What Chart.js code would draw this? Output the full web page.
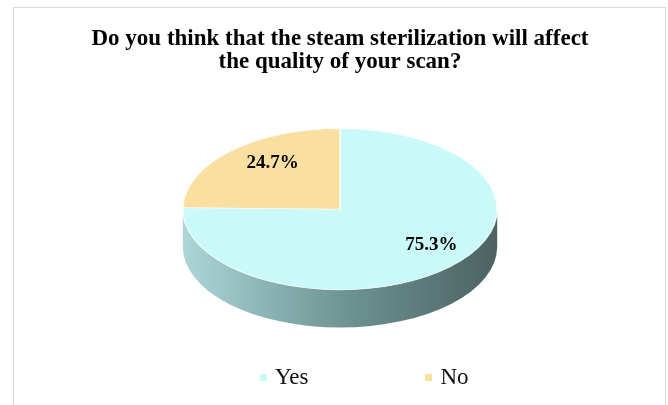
<!DOCTYPE html>
<html>
<head>
<meta charset="utf-8">
<script src="https://cdn.jsdelivr.net/npm/chart.js@4.4.1/dist/chart.umd.min.js"></script>
<style>
  body { margin:0; background:#fff; }
  #frame { position:absolute; left:13px; top:7px; width:651px; height:420px; border:1px solid #d9d9d9; border-bottom:none; }
  #chart { position:absolute; left:0; top:0; }
  #legend { position:absolute; left:260px; top:364px; display:flex; align-items:center; font-family:'Liberation Serif', serif; font-size:23px; color:#111; }
  #legend .item { display:flex; align-items:center; }
  #legend .item + .item { margin-left:117px; }
  #legend .box { width:7px; height:7px; margin-right:8px; }
</style>
</head>
<body>
<div id="frame"></div>
<canvas id="chart" width="668" height="405"></canvas>
<div id="legend"></div>

<script>
// ---------- Dados ----------
const labels = ['Yes', 'No'];
const shares = [75.3, 24.7];
const titleLines = ['Do you think that the steam sterilization will affect', 'the quality of your scan?'];

// ---------- Cores ----------
const topColors = ['#CAF9F9', '#F9DFA0'];
const sideColors = [['#AED6D6', '#6F9595', '#4C6262'], ['#E6C888', '#B89A5C', '#8A7040']];

// ---------- Plugin 3D (elipse + lateral) ----------
const pie3d = {
  id: 'pie3d',
  geom(chart, opts) {
    const arc = chart.getDatasetMeta(0).data[0];
    const R = arc.outerRadius;
    const rx = 2 * R / (2 * opts.tilt + opts.depth);
    const ry = rx * opts.tilt;
    const depth = rx * opts.depth;
    return { R, ox: arc.x, oy: arc.y, cx: arc.x, cy: arc.y - R + ry, rx, ry, depth };
  },
  beforeDatasetsDraw(chart, args, opts) {
    const ctx = chart.ctx;
    const g = this.geom(chart, opts);
    const arcs = chart.getDatasetMeta(0).data;

    // parede lateral visível (ângulos 0..PI no canvas)
    arcs.forEach((arc, i) => {
      [[0, Math.PI], [2 * Math.PI, 3 * Math.PI]].forEach(([lo, hi]) => {
        const s = Math.max(arc.startAngle, lo), e = Math.min(arc.endAngle, hi);
        if (e <= s) return;
        const grad = ctx.createLinearGradient(g.cx - g.rx, 0, g.cx + g.rx, 0);
        const c = sideColors[i];
        grad.addColorStop(0, c[0]);
        grad.addColorStop(0.5, c[1]);
        grad.addColorStop(1, c[2]);
        ctx.save();
        ctx.beginPath();
        ctx.ellipse(g.cx, g.cy, g.rx, g.ry, 0, s, e);
        ctx.ellipse(g.cx, g.cy + g.depth, g.rx, g.ry, 0, e, s, true);
        ctx.closePath();
        ctx.fillStyle = grad;
        ctx.fill();
        ctx.restore();
      });
    });

    // face superior: achata o círculo em elipse
    ctx.save();
    ctx.translate(g.cx, g.cy);
    ctx.scale(g.rx / g.R, g.ry / g.R);
    ctx.translate(-g.ox, -g.oy);
  },
  afterDatasetsDraw(chart, args, opts) {
    const ctx = chart.ctx;
    ctx.restore();
    const g = this.geom(chart, opts);
    const arcs = chart.getDatasetMeta(0).data;
    ctx.save();
    ctx.font = 'bold 19px "Liberation Serif"';
    ctx.fillStyle = '#000';
    ctx.textAlign = 'center';
    ctx.textBaseline = 'middle';
    arcs.forEach((arc, i) => {
      const mid = (arc.startAngle + arc.endAngle) / 2;
      const x = g.cx + opts.labelPos * g.rx * Math.cos(mid) + opts.labelShift[0];
      const y = g.cy + opts.labelPos * g.ry * Math.sin(mid) + opts.labelShift[1];
      ctx.fillText(shares[i].toFixed(1) + '%', x, y);
    });
    ctx.restore();
  }
};

// ---------- Gráfico ----------
const chart = new Chart(document.getElementById('chart'), {
  type: 'pie',
  data: {
    labels,
    datasets: [{
      data: shares,
      backgroundColor: topColors,
      borderColor: 'rgba(255,255,255,0.7)',
      borderWidth: 1
    }]
  },
  options: {
    responsive: false,
    animation: false,
    devicePixelRatio: 1,
    layout: { padding: { left: 12, top: 0, bottom: 77 } },
    plugins: {
      legend: { display: false },
      tooltip: { enabled: false },
      title: {
        display: true,
        text: titleLines,
        color: '#000',
        font: { family: 'Liberation Serif', size: 23, weight: 'bold', lineHeight: 1.0 },
        padding: { top: 28, bottom: 54 }
      },
      pie3d: { tilt: 0.513, depth: 0.24, labelPos: 0.72, labelShift: [12, -5] }
    }
  },
  plugins: [pie3d]
});

// ---------- Legenda ----------
const legendEl = document.getElementById('legend');
labels.forEach((lab, i) => {
  const item = document.createElement('div');
  item.className = 'item';
  item.innerHTML = `<span class="box" style="background:${topColors[i]}"></span><span>${lab}</span>`;
  legendEl.appendChild(item);
});
</script>
</body>
</html>
